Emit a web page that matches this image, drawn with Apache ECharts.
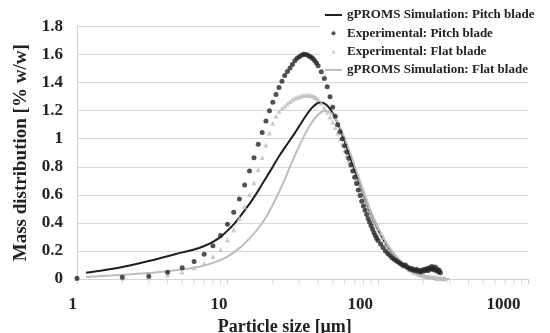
<!DOCTYPE html>
<html><head><meta charset="utf-8">
<script src="https://cdn.jsdelivr.net/npm/echarts@6/dist/echarts.min.js"></script>
<style>html,body{margin:0;padding:0;background:#fff}#c{width:550px;height:333px}</style>
</head><body><div id="c"></div>
<script>
// ---- data ----
const seriesNames = ['gPROMS Simulation: Pitch blade', 'Experimental: Pitch blade', 'Experimental: Flat blade', 'gPROMS Simulation: Flat blade'];

const simPitchX = [1.15, 1.5, 2, 3, 4, 5, 6, 7, 8, 9, 10, 11, 12, 14, 16, 18, 20, 22, 24, 26, 28, 30, 33, 36, 39, 41, 44, 47, 50, 55, 60, 65, 70, 75, 80, 90, 100, 110, 120, 140, 160, 180, 200, 220, 250];
const simPitchY = [0.045, 0.062, 0.085, 0.128, 0.162, 0.19, 0.21, 0.235, 0.265, 0.3, 0.345, 0.39, 0.44, 0.535, 0.63, 0.72, 0.8, 0.875, 0.935, 0.99, 1.04, 1.09, 1.16, 1.215, 1.248, 1.258, 1.252, 1.225, 1.182, 1.09, 0.985, 0.875, 0.775, 0.68, 0.595, 0.455, 0.35, 0.27, 0.208, 0.125, 0.07, 0.038, 0.02, 0.01, 0.003];

const simFlatX = [1.15, 2, 3, 4, 5, 6, 8, 10, 12, 14, 16, 18, 20, 22, 24, 26, 28, 30, 33, 36, 39, 42, 45, 48, 52, 56, 60, 65, 70, 75, 80, 90, 100, 110, 120, 140, 160, 180, 200, 230, 260, 300];
const simFlatY = [0.015, 0.03, 0.042, 0.055, 0.068, 0.08, 0.115, 0.16, 0.22, 0.29, 0.36, 0.44, 0.53, 0.62, 0.71, 0.8, 0.88, 0.95, 1.04, 1.11, 1.16, 1.19, 1.2, 1.19, 1.145, 1.08, 1.005, 0.905, 0.805, 0.715, 0.63, 0.48, 0.37, 0.285, 0.22, 0.133, 0.077, 0.044, 0.024, 0.01, 0.004, 0];

const expPitchX = [1,2,3,4,5,6,7,8,9,10,11,12,13,14,15,16,17,18,19,20,21,22,23,24,25,26,27,28,29,30,31,32,33,34,35,36,37,38,39,40,
  42,44,46,48,50,52,54,56,58,60,62,64,66,68,70,72,74,76,78,80,82,84,86,88,90,92,94,96,98,100,
  104,108,112,116,120,124,128,132,136,140,144,148,152,156,160,164,168,172,176,180,184,188,192,196,200,204,208,212,216,220,224,228,232,236,240,244,248,252,256,260];
const expPitchY = [0.005,0.012,0.02,0.048,0.08,0.125,0.176,0.237,0.31,0.39,0.475,0.57,0.67,0.77,0.865,0.96,1.045,1.126,1.2,1.26,1.315,1.365,1.41,1.45,1.48,1.505,1.53,1.555,1.573,1.585,1.595,1.602,1.6,1.596,1.588,1.58,1.57,1.556,1.54,1.52,
  1.478,1.43,1.37,1.3,1.225,1.16,1.1,1.05,1.0,0.95,0.905,0.86,0.815,0.77,0.725,0.68,0.635,0.595,0.555,0.52,0.49,0.46,0.43,0.405,0.38,0.355,0.33,0.31,0.29,0.275,
  0.25,0.225,0.2,0.182,0.167,0.152,0.14,0.13,0.122,0.113,0.104,0.095,0.1,0.085,0.08,0.07,0.075,0.065,0.06,0.07,0.055,0.06,0.05,0.065,0.055,0.07,0.06,0.075,0.06,0.08,0.07,0.09,0.075,0.065,0.085,0.06,0.07,0.05,0.06,0.045];

const expFlatX = [1,2,3,4,5,6,7,8,9,10,11,12,13,14,15,16,17,18,19,20,21,22,23,24,25,26,27,28,29,30,31,32,33,34,35,36,37,38,39,40,
  42,44,46,48,50,52,54,56,58,60,62,64,66,68,70,72,74,76,78,80,82,84,86,88,90,92,94,96,98,100,
  104,108,112,116,120,124,128,132,136,140,144,148,152,156,160,164,168,172,176,180,184,188,192,196,200,204,208,212,216,220,224,228,232,236,240,244,248,252,256,260,264,268,272,276,280];
const expFlatY = [0.003,0.008,0.013,0.03,0.05,0.08,0.11,0.16,0.21,0.278,0.35,0.433,0.515,0.6,0.686,0.78,0.867,0.955,1.04,1.11,1.16,1.195,1.215,1.232,1.25,1.265,1.278,1.288,1.295,1.3,1.305,1.31,1.31,1.312,1.31,1.308,1.304,1.298,1.29,1.28,
  1.255,1.225,1.19,1.155,1.12,1.08,1.04,1.0,0.96,0.92,0.88,0.845,0.81,0.775,0.74,0.71,0.68,0.65,0.62,0.59,0.56,0.535,0.51,0.485,0.46,0.44,0.42,0.4,0.38,0.36,
  0.325,0.295,0.265,0.24,0.215,0.195,0.175,0.155,0.14,0.125,0.11,0.1,0.09,0.08,0.07,0.064,0.058,0.052,0.046,0.042,0.038,0.034,0.03,0.027,0.024,0.022,0.02,0.018,0.016,0.014,0.013,0.012,0.011,0.01,0.009,0.008,0.007,0.006,0.005,0.005,0.004,0.003,0.003,0.002,0.002];

const xTickLabels = [1, 10, 100, 1000];
const minorTickValues = [2,3,4,5,6,7,8,9,20,30,40,50,60,70,80,90,200,300,400,500,600,700,800,900];

// ---- chart ----
const FONT = '"Liberation Serif","Times New Roman",serif';
const zip = (xs, ys) => xs.map((x, i) => [x, ys[i]]);
const labelPad = {1: 0, 10: 0, 100: 5, 1000: 8};
const rich = {};
xTickLabels.forEach((v, i) => {
  rich['t' + i] = {fontFamily: FONT, fontWeight: 'bold', fontSize: 17, color: '#222', padding: [0, labelPad[v], 0, 0]};
});
const lineIcon = 'path://M0,0M0,1.5L17,1.5L17,3.5L0,3.5ZM17,5';
const dotIcon = 'path://M0,0M6.5,2.5A2,2,0,1,1,10.5,2.5A2,2,0,1,1,6.5,2.5ZM17,5';
const triIcon = 'path://M0,0M6.5,4.5L8.5,0.8L10.5,4.5ZM17,5';
const legendIcons = [lineIcon, dotIcon, triIcon, lineIcon];

const chart = echarts.init(document.getElementById('c'), null, {renderer: 'canvas'});
chart.setOption({
  animation: false,
  backgroundColor: '#fff',
  grid: {left: 77, right: 21.5, top: 26.5, bottom: 54, containLabel: false, outerBoundsMode: 'none'},
  legend: {
    orient: 'vertical', left: 320, top: 3.5,
    padding: [5, 5, 3, 5], backgroundColor: '#fff',
    itemWidth: 17, itemHeight: 5, itemGap: 5.3,
    textStyle: {fontFamily: FONT, fontWeight: 'bold', fontSize: 13, color: '#222'},
    data: seriesNames.map((n, i) => ({name: n, icon: legendIcons[i]}))
  },
  xAxis: {
    type: 'log', logBase: 10, min: 1, max: 1000,
    axisLine: {show: true, lineStyle: {color: '#d4d4d4', width: 1}},
    axisTick: {show: true, length: 5, lineStyle: {color: '#d0d0d0'}},
    splitLine: {show: false},
    axisLabel: {
      margin: 17, align: 'right',
      formatter: (v) => { const i = xTickLabels.indexOf(Math.round(v)); return '{t' + i + '|' + xTickLabels[i] + '}'; },
      rich: rich
    },
    name: 'Particle size [μm]', nameLocation: 'middle', nameGap: 38,
    nameTextStyle: {fontFamily: FONT, fontWeight: 'bold', fontSize: 18, color: '#222', padding: [0, 36, 0, 0]}
  },
  yAxis: {
    type: 'value', min: 0, max: 1.8, interval: 0.2,
    axisLine: {show: true, lineStyle: {color: '#d4d4d4'}},
    axisTick: {show: false},
    splitLine: {show: true, lineStyle: {color: '#d9d9d9', width: 1}},
    axisLabel: {margin: 14, fontFamily: FONT, fontWeight: 'bold', fontSize: 17, color: '#222'},
    name: 'Mass distribution [% w/w]', nameLocation: 'middle', nameGap: 46,
    nameTextStyle: {fontFamily: FONT, fontWeight: 'bold', fontSize: 19, color: '#222'}
  },
  series: [
    {name: seriesNames[0], type: 'line', data: zip(simPitchX, simPitchY), symbol: 'none', smooth: 0.3,
     lineStyle: {color: '#1e1e1e', width: 2}, itemStyle: {color: '#1e1e1e'}, z: 2},
    {name: seriesNames[1], type: 'scatter', data: zip(expPitchX, expPitchY), symbol: 'circle', symbolSize: 5,
     itemStyle: {color: '#262626'}, z: 5},
    {name: seriesNames[2], type: 'scatter', data: zip(expFlatX, expFlatY), symbol: 'triangle', symbolSize: 5,
     itemStyle: {color: '#bdbdbd'}, z: 3},
    {name: seriesNames[3], type: 'line', data: zip(simFlatX, simFlatY), symbol: 'none', smooth: 0.3,
     lineStyle: {color: '#bdbdbd', width: 2}, itemStyle: {color: '#bdbdbd'}, z: 2},
    {name: 'minorTicks', type: 'scatter', data: minorTickValues.map(v => [v, 0]), symbol: 'rect', symbolSize: [1, 5],
     symbolOffset: [0, 3], itemStyle: {color: '#d0d0d0'}, silent: true, clip: false, z: 1}
  ]
});
</script></body></html>
